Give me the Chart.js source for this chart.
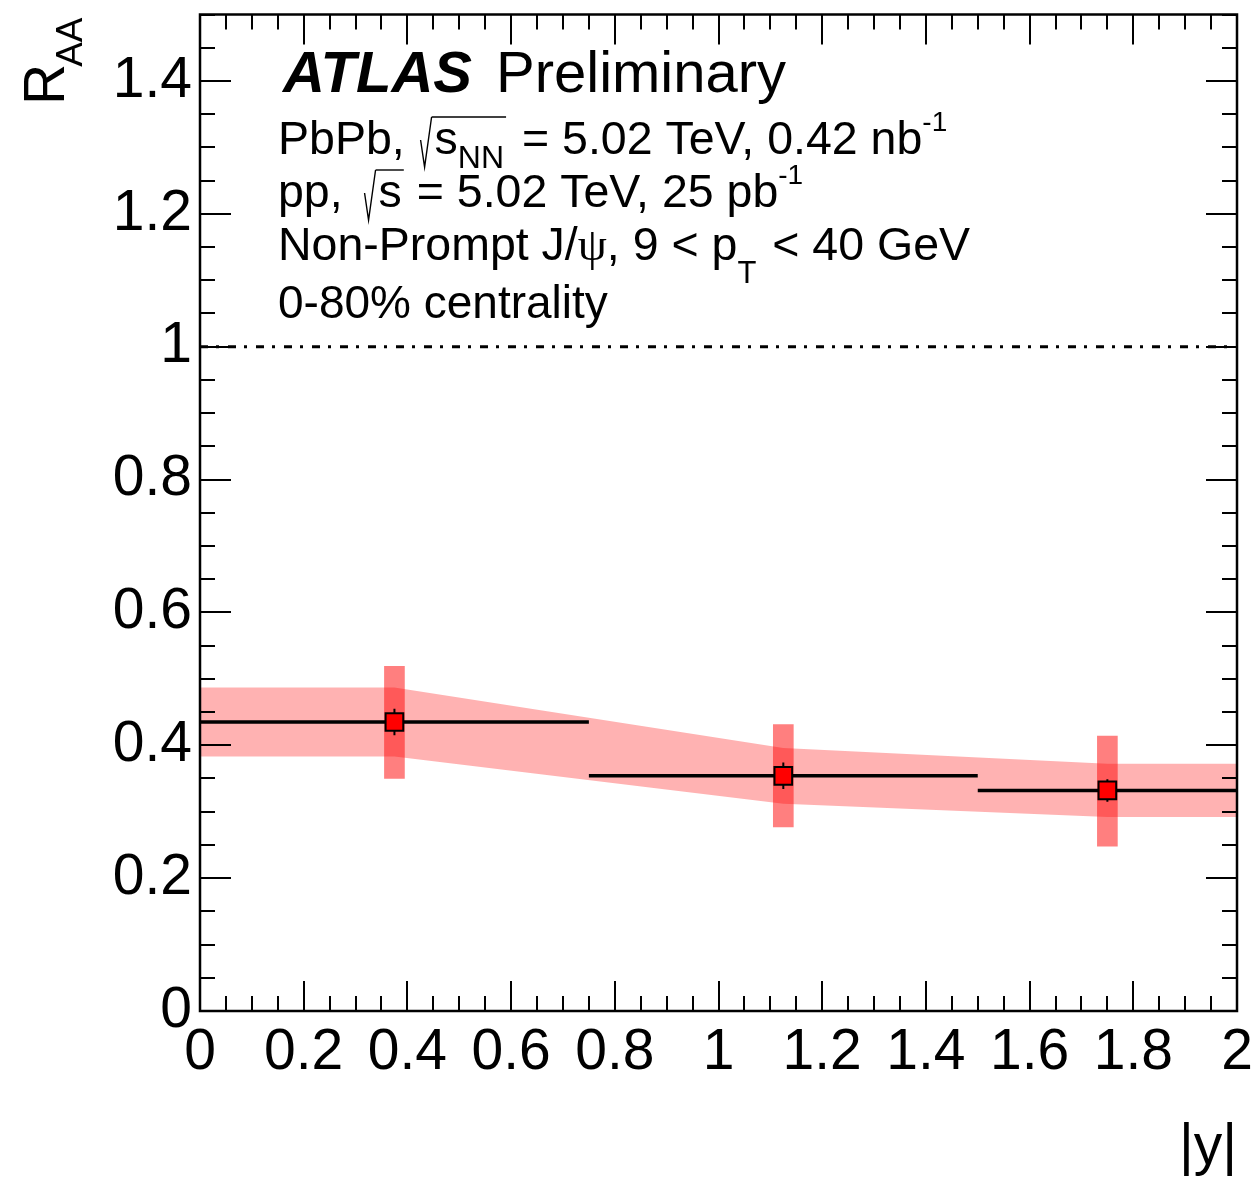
<!DOCTYPE html>
<html><head><meta charset="utf-8">
<script src="https://cdn.jsdelivr.net/npm/chart.js@4.4.1/dist/chart.umd.min.js"></script>
<style>html,body{margin:0;padding:0;background:#fff;}</style>
</head><body>
<canvas id="c" width="1258" height="1178"></canvas>
<script>
// ---- data ----
const binCenters = [0.375, 1.125, 1.75];
const binLow = [0, 0.75, 1.5];
const binHigh = [0.75, 1.5, 2.0];
const raa = [0.435, 0.354, 0.332];
const statErr = [0.020, 0.020, 0.017];
const systLow = [0.350, 0.277, 0.248];
const systHigh = [0.519, 0.431, 0.414];
const bandX = [0, 0.375, 1.125, 1.75, 2.0];
const bandLow = [0.383, 0.383, 0.312, 0.292, 0.292];
const bandHigh = [0.487, 0.487, 0.396, 0.372, 0.372];
const refX = [0, 2];
const refY = [1, 1];
const xTickValues = [0, 0.2, 0.4, 0.6, 0.8, 1, 1.2, 1.4, 1.6, 1.8, 2];
const xTickLabels = ['0', '0.2', '0.4', '0.6', '0.8', '1', '1.2', '1.4', '1.6', '1.8', '2'];
const yTickValues = [0, 0.2, 0.4, 0.6, 0.8, 1, 1.2, 1.4];
const yTickLabels = ['0', '0.2', '0.4', '0.6', '0.8', '1', '1.2', '1.4'];
const minorStep = 0.05;

const FONT = '"Liberation Sans", Arial, Helvetica, sans-serif';
function labelFor(values, labels, v) {
  const i = values.findIndex(t => Math.abs(t - v) < 1e-6);
  return i < 0 ? '' : labels[i];
}

// build datasets from arrays
const binLineData = [];
binCenters.forEach((c, i) => {
  binLineData.push({x: binLow[i], y: raa[i]}, {x: binHigh[i], y: raa[i]}, {x: binHigh[i], y: null});
});
const statData = [];
binCenters.forEach((c, i) => {
  statData.push({x: c, y: raa[i] - statErr[i]}, {x: c, y: raa[i] + statErr[i]}, {x: c, y: null});
});

const datasets = [
  {type: 'line', data: bandX.map((x, i) => ({x, y: bandLow[i]})), borderWidth: 0, pointRadius: 0, fill: false, order: 10, tension: 0},
  {type: 'line', data: bandX.map((x, i) => ({x, y: bandHigh[i]})), borderWidth: 0, pointRadius: 0, fill: '-1',
   backgroundColor: 'rgba(255,0,0,0.3)', order: 9, tension: 0},
  {type: 'bar', data: binCenters.map((x, i) => ({x, y: [systLow[i], systHigh[i]]})), backgroundColor: 'rgba(255,0,0,0.5)',
   borderWidth: 0, barThickness: 20, order: 8},
  {type: 'line', data: refX.map((x, i) => ({x, y: refY[i]})), borderColor: '#000', borderWidth: 3,
   borderDash: [8, 8, 3, 9], pointRadius: 0, fill: false, order: 7},
  {type: 'line', data: binLineData, borderColor: '#000', borderWidth: 3.5, pointRadius: 0, spanGaps: false, fill: false, order: 6},
  {type: 'line', data: statData, borderColor: '#000', borderWidth: 2, pointRadius: 0, spanGaps: false, fill: false, order: 5},
  {type: 'scatter', data: binCenters.map((x, i) => ({x, y: raa[i]})), pointStyle: 'rect', pointRadius: 12.5,
   backgroundColor: '#ff0000', borderColor: '#000', borderWidth: 2, order: 1}
];

// ---- rich text helper ----
function drawRich(ctx, x, y, segs) {
  let cx = x, sq = null;
  for (const s of segs) {
    if (s.sqrt === 'open') {
      ctx.save();
      ctx.lineWidth = 1.4; ctx.strokeStyle = '#000';
      ctx.beginPath();
      ctx.moveTo(cx + 1, y - 14);
      ctx.lineTo(cx + 5, y + 13);
      ctx.lineTo(cx + 12, y - 37);
      ctx.stroke();
      ctx.restore();
      sq = cx + 12; cx += 15; continue;
    }
    if (s.sqrt === 'close') {
      ctx.save(); ctx.lineWidth = 1.4; ctx.strokeStyle = '#000';
      ctx.beginPath(); ctx.moveTo(sq, y - 37); ctx.lineTo(cx + 2, y - 37); ctx.stroke(); ctx.restore();
      continue;
    }
    if (s.gap) { cx += s.gap; continue; }
    ctx.font = `${s.style || ''} ${s.size}px ${s.family || FONT}`;
    ctx.fillText(s.t, cx, y + (s.dy || 0));
    cx += ctx.measureText(s.t).width;
  }
  return cx;
}

const decor = {
  id: 'decor',
  afterDraw(chart) {
    const ctx = chart.ctx;
    const a = chart.chartArea;
    const xs = chart.scales.x, ys = chart.scales.y;
    ctx.save();
    ctx.strokeStyle = '#000';
    ctx.lineWidth = 2;
    // ticks
    ctx.beginPath();
    const nx = Math.round((xs.max - xs.min) / minorStep);
    for (let k = 0; k <= nx; k++) {
      const v = xs.min + k * minorStep;
      const major = xTickValues.some(t => Math.abs(t - v) < 1e-6);
      const len = major ? 30 : 15;
      const px = Math.round(xs.getPixelForValue(v));
      ctx.moveTo(px, a.bottom); ctx.lineTo(px, a.bottom - len);
      ctx.moveTo(px, a.top); ctx.lineTo(px, a.top + len);
    }
    const ny = Math.round((ys.max - ys.min) / minorStep);
    for (let k = 0; k <= ny; k++) {
      const v = ys.min + k * minorStep;
      const major = yTickValues.some(t => Math.abs(t - v) < 1e-6);
      const len = major ? 31 : 15;
      const py = Math.round(ys.getPixelForValue(v));
      ctx.moveTo(a.left, py); ctx.lineTo(a.left + len, py);
      ctx.moveTo(a.right, py); ctx.lineTo(a.right - len, py);
    }
    ctx.stroke();
    // frame
    ctx.lineWidth = 2.5;
    ctx.strokeRect(a.left, a.top, a.right - a.left, a.bottom - a.top);

    // texts
    ctx.fillStyle = '#000';
    ctx.textBaseline = 'alphabetic';
    ctx.textAlign = 'left';
    ctx.font = `italic bold 58px ${FONT}`;
    ctx.fillText('ATLAS', 283, 92);
    ctx.font = `58px ${FONT}`;
    ctx.fillText('Preliminary', 496, 92);

    drawRich(ctx, 278, 154, [
      {t: 'PbPb, ', size: 46.5}, {gap: 2}, {sqrt: 'open'}, {t: 's', size: 46.5}, {t: 'NN', size: 32, dy: 14},
      {sqrt: 'close'}, {gap: 5}, {t: ' = 5.02 TeV, 0.42 nb', size: 46.5}, {t: '-1', size: 28, dy: -23}
    ]);
    drawRich(ctx, 278, 207, [
      {t: 'pp, ', size: 46.5}, {gap: 8}, {sqrt: 'open'}, {t: 's', size: 46.5},
      {sqrt: 'close'}, {gap: 2}, {t: ' = 5.02 TeV, 25 pb', size: 46.5}, {t: '-1', size: 28, dy: -23}
    ]);
    drawRich(ctx, 278, 260, [
      {t: 'Non-Prompt J/', size: 46.5}, {t: 'ψ', size: 46.5, family: '"Liberation Serif", "DejaVu Serif", serif'},
      {t: ', 9 < p', size: 46.5}, {t: 'T', size: 31, dy: 23}, {gap: 3}, {t: ' < 40 GeV', size: 46.5}
    ]);
    drawRich(ctx, 278, 318, [{t: '0-80% centrality', size: 46}]);

    // axis titles
    ctx.font = `57px ${FONT}`;
    ctx.textAlign = 'right';
    ctx.fillText('|y|', a.right, 1164);
    ctx.save();
    ctx.translate(64, 105);
    ctx.rotate(-Math.PI / 2);
    ctx.textAlign = 'left';
    ctx.font = `57px ${FONT}`;
    ctx.fillText('R', 0, 0);
    const rw = ctx.measureText('R').width;
    ctx.font = `37px ${FONT}`;
    ctx.fillText('AA', rw - 3, 18);
    ctx.restore();
    ctx.restore();
  }
};

new Chart(document.getElementById('c'), {
  type: 'scatter',
  data: {datasets},
  options: {
    responsive: false,
    animation: false,
    devicePixelRatio: 1,
    layout: {padding: {top: 14, right: 21, left: 0, bottom: 0}},
    plugins: {legend: {display: false}, tooltip: {enabled: false}},
    scales: {
      x: {
        type: 'linear', min: 0, max: 2, offset: false,
        grid: {display: false, drawTicks: false, offset: false}, border: {display: false},
        ticks: {stepSize: 0.2, autoSkip: false, maxRotation: 0, minRotation: 0, padding: 8, color: '#000',
          font: {family: FONT, size: 57}, callback: (v) => labelFor(xTickValues, xTickLabels, v)},
        afterFit: (s) => { s.height = 167; s.paddingLeft = 0; s.paddingRight = 0; }
      },
      y: {
        type: 'linear', min: 0, max: 1.5, beginAtZero: true,
        grid: {display: false, drawTicks: false}, border: {display: false},
        ticks: {stepSize: 0.2, autoSkip: false, padding: 8, color: '#000',
          font: {family: FONT, size: 57}, callback: (v) => labelFor(yTickValues, yTickLabels, v)},
        afterFit: (s) => { s.width = 200; s.paddingTop = 0; s.paddingBottom = 0; }
      }
    }
  },
  plugins: [decor]
});
</script>
</body></html>
